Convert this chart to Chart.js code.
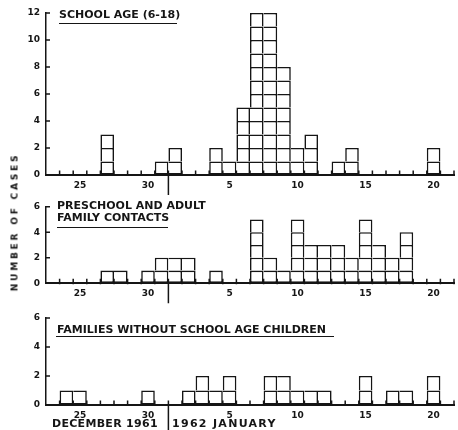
<!DOCTYPE html>
<html>
<head>
<meta charset="utf-8">
<script src="https://cdn.jsdelivr.net/npm/chart.js@4/dist/chart.umd.min.js"></script>
<style>
  html, body { margin: 0; padding: 0; background: #fff; }
  #wrap { position: relative; width: 458px; height: 430px; overflow: hidden;
          font-family: "DejaVu Sans", sans-serif; font-weight: bold; color: #151515; }
  canvas { position: absolute; left: 0; }
  .lbl { position: absolute; white-space: nowrap; font-size: 11px; line-height: 11px; }
  .rule { position: absolute; height: 0; border-top: 1.3px solid #151515; }
  #ytitle { position: absolute; left: 15px; top: 222px; font-size: 9px; line-height: 9px;
            letter-spacing: 2.8px; white-space: nowrap;
            transform: translate(-50%, -50%) rotate(-90deg); }
</style>
</head>
<body>
<div id="wrap">
  <canvas id="schoolChart" width="458" height="200" style="top:0px"></canvas>
  <canvas id="contactsChart" width="458" height="120" style="top:190px"></canvas>
  <canvas id="familiesChart" width="458" height="130" style="top:300px"></canvas>

  <div class="lbl" style="left:59px;top:9px">SCHOOL AGE (6-18)</div>
  <div class="rule" style="left:59px;top:23px;width:118px"></div>

  <div class="lbl" style="left:57px;top:200px">PRESCHOOL AND ADULT</div>
  <div class="lbl" style="left:57px;top:211.5px">FAMILY CONTACTS</div>
  <div class="rule" style="left:57px;top:226.5px;width:111px"></div>

  <div class="lbl" style="left:57px;top:323.5px">FAMILIES WITHOUT SCHOOL AGE CHILDREN</div>
  <div class="rule" style="left:56px;top:336px;width:278px"></div>

  <div id="ytitle">NUMBER OF CASES</div>

  <div class="lbl" style="left:52px;top:417.5px;letter-spacing:0.3px">DECEMBER 1961</div>
  <div class="lbl" style="left:172px;top:417.5px;letter-spacing:1.3px">1962 JANUARY</div>
</div>

<script>
// Days from 23 December 1961 to 21 January 1962
const dayLabels = ['23','24','25','26','27','28','29','30','31',
                   '1','2','3','4','5','6','7','8','9','10',
                   '11','12','13','14','15','16','17','18','19','20','21'];
// Day numbers printed under the axis
const shownDays = ['25','30','5','10','15','20'];

// Cases per day of onset
const schoolAge      = [0,0,0,0,3,0,0,0,1,2,0,0,2,1,5,12,12,8,2,3,0,1,2,0,0,0,0,0,2,0];
const familyContacts = [0,0,0,0,1,1,0,1,2,2,2,0,1,0,0,5,2,1,5,3,3,3,2,5,3,2,4,0,0,0];
const noSchoolFamily = [0,1,1,0,0,0,0,1,0,0,1,2,1,2,0,0,2,2,1,1,1,0,0,2,0,1,1,0,2,0];

const ink = '#151515';
const edge = 1.6;
const fontFamily = '"DejaVu Sans", sans-serif';

// One stacked dataset per case level, so every case is drawn as its own square
function caseSquares(counts) {
  const highest = Math.max(...counts);
  const layers = [];
  for (let k = 1; k <= highest; k++) {
    layers.push({
      data: counts.map(c => (c >= k ? 1 : null)),
      backgroundColor: '#fff',
      borderColor: ink,
      borderSkipped: false,
      inflateAmount: 0,
      categoryPercentage: 1,
      barPercentage: 1,
      borderWidth: (ctx) => {
        const i = ctx.dataIndex;
        if (i === undefined) return edge;
        const leftNeighbour = i > 0 && counts[i - 1] >= k;
        return { top: edge, right: edge, bottom: k === 1 ? edge : 0, left: leftNeighbour ? 0 : edge };
      }
    });
  }
  return layers;
}

// Small inward tick marks on both axes and the year divider below the axis
const axisMarks = {
  id: 'axisMarks',
  afterDatasetsDraw(chart, args, opts) {
    const { ctx, chartArea, scales: { x, y } } = chart;
    const half = (x.getPixelForValue(1) - x.getPixelForValue(0)) / 2;
    ctx.save();
    ctx.strokeStyle = ink;
    ctx.lineWidth = 1.5;
    ctx.lineCap = 'butt';
    ctx.beginPath();
    for (let i = 1; i <= dayLabels.length; i++) {
      const px = x.getPixelForValue(i - 1) + half;
      ctx.moveTo(px, chartArea.bottom + 1);
      ctx.lineTo(px, chartArea.bottom - 4.5);
    }
    y.ticks.forEach(t => {
      if (t.value === 0) return;
      const py = y.getPixelForValue(t.value);
      ctx.moveTo(chartArea.left - 1, py);
      ctx.lineTo(chartArea.left + 4, py);
    });
    // year divider between 31 December and 1 January
    const dx = x.getPixelForValue(dayLabels.indexOf('1')) - half;
    ctx.moveTo(dx, chartArea.bottom);
    ctx.lineTo(dx, chartArea.bottom + opts.length);
    ctx.stroke();
    ctx.restore();
  }
};

function panel(id, counts, yMax, padTop, padBottom, dividerLength) {
  return new Chart(document.getElementById(id), {
    type: 'bar',
    data: { labels: dayLabels, datasets: caseSquares(counts) },
    plugins: [axisMarks],
    options: {
      responsive: false,
      animation: false,
      layout: { padding: { top: padTop, right: 4, bottom: padBottom, left: 0 } },
      plugins: {
        legend: { display: false },
        tooltip: { enabled: false },
        axisMarks: { length: dividerLength }
      },
      scales: {
        x: {
          stacked: true,
          afterFit(s) { s.height = 20; },
          grid: { display: true, drawOnChartArea: false, drawTicks: false },
          border: { display: true, width: 2, color: ink },
          ticks: {
            autoSkip: false, maxRotation: 0, minRotation: 0, padding: 5, color: ink,
            font: { family: fontFamily, size: 9, weight: 'bold' },
            callback(v, i) { return shownDays.includes(dayLabels[i]) ? dayLabels[i] : ''; }
          }
        },
        y: {
          stacked: true, min: 0, max: yMax,
          afterFit(s) { s.width = 46; },
          grid: { display: true, drawOnChartArea: false, drawTicks: false },
          border: { display: true, width: 1.5, color: ink },
          ticks: {
            stepSize: 2, padding: 6, color: ink,
            font: { family: fontFamily, size: 9, weight: 'bold' }
          }
        }
      }
    }
  });
}

// chart areas: 13..175, 206.7..283.3, 318..405 on the page
panel('schoolChart',   schoolAge,      12, 13,   5,   20);
panel('contactsChart', familyContacts, 6,  16.7, 6.7, 20);
panel('familiesChart', noSchoolFamily, 6,  18,   5,   30);
</script>
</body>
</html>
